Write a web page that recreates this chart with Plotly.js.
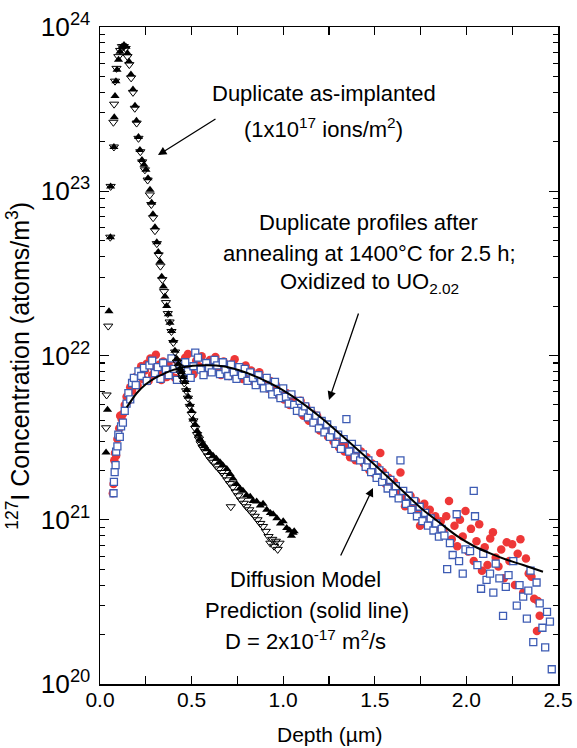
<!DOCTYPE html>
<html>
<head>
<meta charset="utf-8">
<script src="https://cdn.plot.ly/plotly-3.0.1.min.js"></script>
<style>html,body{margin:0;padding:0;background:#fff;}#plot{width:577px;height:748px;}</style>
</head>
<body>
<div id="plot"></div>
<script>
// As-implanted, sample 1 (filled triangles)
const implantA_depth = [0.033,0.041,0.049,0.057,0.058,0.076,0.078,0.082,0.087,0.093,0.101,0.109,0.12,0.131,0.142,0.15,0.158,0.169,0.18,0.191,0.199,0.21,0.218,0.229,0.24,0.251,0.262,0.273,0.282,0.289,0.3,0.31,0.318,0.328,0.337,0.346,0.355,0.364,0.373,0.382,0.391,0.4,0.409,0.419,0.428,0.437,0.445,0.453,0.463,0.473,0.482,0.491,0.5,0.508,0.519,0.53,0.538,0.546,0.56,0.572,0.582,0.6,0.617,0.635,0.655,0.67,0.692,0.71,0.726,0.745,0.764,0.78,0.8,0.82,0.835,0.855,0.875,0.89,0.91,0.93,0.945,0.965,0.985,1.0,1.019,1.035,1.045,1.054,1.06];
const implantA_conc = [2.57e21,4.68e21,1.86e22,5.25e22,1.07e23,1.86e23,2.82e23,3.8e23,4.68e23,5.5e23,6.31e23,7.08e23,7.59e23,7.76e23,7.59e23,6.92e23,6.17e23,5.13e23,4.17e23,3.31e23,2.69e23,2.14e23,1.78e23,1.55e23,1.45e23,1.35e23,1.2e23,1.02e23,8.51e22,7.24e22,6.03e22,4.9e22,4.27e22,3.72e22,3.02e22,2.63e22,2.29e22,2.0e22,1.78e22,1.58e22,1.41e22,1.23e22,1.07e22,9.55e21,8.9e21,8.32e21,7.9e21,7.41e21,6.9e21,6.17e21,5.6e21,5.01e21,4.6e21,4.07e21,3.8e21,3.47e21,3.3e21,3.09e21,2.9e21,2.8e21,2.69e21,2.55e21,2.45e21,2.35e21,2.24e21,2.15e21,2.04e21,1.9e21,1.78e21,1.65e21,1.55e21,1.5e21,1.41e21,1.38e21,1.3e21,1.29e21,1.22e21,1.25e21,1.15e21,1.1e21,1.08e21,1.02e21,9.5e20,9.8e20,8.91e20,8.6e20,8.0e20,8.32e20,8.5e20];

// As-implanted, sample 2 (open triangles)
const implantB_depth = [0.033,0.036,0.045,0.056,0.058,0.073,0.076,0.077,0.082,0.09,0.1,0.11,0.12,0.13,0.14,0.15,0.16,0.17,0.18,0.19,0.2,0.21,0.22,0.23,0.245,0.26,0.272,0.28,0.29,0.3,0.31,0.32,0.33,0.34,0.35,0.36,0.37,0.38,0.39,0.4,0.41,0.42,0.43,0.44,0.45,0.46,0.47,0.48,0.49,0.5,0.51,0.52,0.53,0.54,0.55,0.56,0.575,0.59,0.605,0.62,0.635,0.65,0.665,0.68,0.695,0.71,0.714,0.725,0.74,0.755,0.77,0.785,0.8,0.815,0.83,0.845,0.86,0.875,0.89,0.905,0.92,0.93,0.94,0.95,0.96,0.97,0.98];
const implantB_conc = [3.63e21,5.75e21,1.51e22,5.25e22,1.07e23,2.63e23,1.86e23,3.39e23,4.68e23,5.6e23,6.6e23,7.2e23,7.6e23,7.6e23,7.4e23,6.6e23,5.9e23,4.9e23,4.0e23,3.2e23,2.6e23,2.1e23,1.74e23,1.51e23,1.35e23,1.17e23,9.5e22,8.3e22,6.9e22,5.75e22,4.8e22,4.1e22,3.5e22,2.9e22,2.45e22,2.1e22,1.8e22,1.6e22,1.4e22,1.2e22,1.05e22,9.1e21,8.5e21,7.8e21,7.3e21,6.8e21,6.1e21,5.5e21,4.9e21,4.4e21,4.0e21,3.6e21,3.3e21,3.1e21,2.9e21,2.75e21,2.6e21,2.45e21,2.32e21,2.24e21,2.12e21,2.04e21,1.94e21,1.86e21,1.75e21,1.66e21,1.2e21,1.58e21,1.48e21,1.4e21,1.32e21,1.26e21,1.2e21,1.15e21,1.1e21,1.05e21,1.0e21,9.5e20,9.1e20,8.5e20,7.9e20,7.2e20,7.6e20,6.9e20,7.4e20,6.6e20,7.2e20];

// Annealed, sample 1 (red filled circles)
const annealA_depth = [0.070,0.074,0.078,0.082,0.088,0.095,0.105,0.110,0.118,0.125,0.135,0.145,0.155,0.165,0.175,0.185,0.195,0.205,0.215,0.225,0.235,0.245,0.255,0.265,0.275,0.285,0.295,0.305,0.315,0.325,0.335,0.345,0.355,0.365,0.375,0.385,0.395,0.41,0.42,0.435,0.45,0.465,0.48,0.495,0.51,0.525,0.54,0.555,0.57,0.585,0.60,0.615,0.63,0.645,0.66,0.675,0.69,0.705,0.72,0.735,0.75,0.765,0.78,0.795,0.81,0.825,0.84,0.855,0.87,0.885,0.90,0.915,0.93,0.945,0.96,0.975,0.99,1.005,1.02,1.035,1.05,1.065,1.08,1.095,1.11,1.125,1.14,1.155,1.17,1.185,1.20,1.215,1.23,1.245,1.26,1.275,1.29,1.305,1.32,1.335,1.35,1.365,1.38,1.395,1.41,1.425,1.44,1.455,1.47,1.485,1.50,1.515,1.53,1.545,1.56,1.575,1.59,1.605,1.62,1.64,1.65,1.665,1.68,1.695,1.71,1.725,1.74,1.747,1.755,1.77,1.785,1.80,1.815,1.83,1.845,1.86,1.875,1.89,1.905,1.92,1.935,1.95,1.965,1.98,1.995,2.01,2.025,2.04,2.055,2.07,2.085,2.10,2.115,2.13,2.145,2.16,2.175,2.19,2.205,2.22,2.235,2.25,2.265,2.28,2.295,2.31,2.325,2.34,2.355,2.37,2.385,2.39,2.40];
const annealA_conc = [1.45e21,1.65e21,2.3e21,2.55e21,2.45e21,3.1e21,3.6e21,4.3e21,4.1e21,4.4e21,5.0e21,5.6e21,5.3e21,6.4e21,6.1e21,6.8e21,7.4e21,6.6e21,7.8e21,8.6e21,7.2e21,8.1e21,8.9e21,7.0e21,9.6e21,7.6e21,8.4e21,1.01e22,7.9e21,8.8e21,7.1e21,9.2e21,8.0e21,7.4e21,8.7e21,7.6e21,9.5e21,7.3e21,8.4e21,9.1e21,7.8e21,9.7e21,1.02e22,8.2e21,7.7e21,9.3e21,8.6e21,9.9e21,7.8e21,8.8e21,9.4e21,8.1e21,9.8e21,8.5e21,7.6e21,9.2e21,8.3e21,7.5e21,8.9e21,9.5e21,7.9e21,8.4e21,7.2e21,8.7e21,7.7e21,8.1e21,6.9e21,7.5e21,7.9e21,6.6e21,7.2e21,6.3e21,7.0e21,6.0e21,6.6e21,5.7e21,6.2e21,5.4e21,5.9e21,5.0e21,5.5e21,5.2e21,4.6e21,5.3e21,4.3e21,4.9e21,4.0e21,4.5e21,3.9e21,4.3e21,3.5e21,3.9e21,3.7e21,3.2e21,3.4e21,3.0e21,3.3e21,2.75e21,3.0e21,2.6e21,2.85e21,2.4e21,2.7e21,2.3e21,2.5e21,2.6e21,2.2e21,2.4e21,2.0e21,2.2e21,1.9e21,2.1e21,2.55e21,1.95e21,1.65e21,1.8e21,1.55e21,1.7e21,1.45e21,1.94e21,1.35e21,1.21e21,1.25e21,1.4e21,1.2e21,1.3e21,1.1e21,9.2e20,1.2e21,1.25e21,1.05e21,1.15e21,9.6e20,1.05e21,9.0e20,9.8e20,8.5e20,1.05e21,1.3e21,7.6e20,9.2e20,6.9e20,1.0e21,7.9e20,1.13e21,6.4e20,8.8e20,5.6e20,7.4e20,9.4e20,4.9e20,6.8e20,5.3e20,7.7e20,8.4e20,5.9e20,5.2e20,6.6e20,4.4e20,7.3e20,5.6e20,7.1e20,4.0e20,6.2e20,7.6e20,3.6e20,5.8e20,4.7e20,4.5e20,3.3e20,2.1e20,3.2e20,2.6e20];

// Annealed, sample 2 (blue open squares)
const annealB_depth = [0.074,0.076,0.080,0.085,0.088,0.095,0.10,0.108,0.115,0.125,0.135,0.145,0.155,0.165,0.175,0.185,0.195,0.21,0.225,0.24,0.255,0.27,0.285,0.30,0.315,0.33,0.345,0.36,0.375,0.39,0.405,0.42,0.435,0.45,0.465,0.48,0.495,0.51,0.52,0.535,0.55,0.565,0.58,0.595,0.61,0.625,0.64,0.655,0.67,0.685,0.70,0.715,0.73,0.745,0.76,0.775,0.79,0.805,0.82,0.835,0.85,0.865,0.88,0.895,0.91,0.925,0.94,0.955,0.97,0.985,1.00,1.015,1.03,1.045,1.06,1.075,1.09,1.105,1.12,1.135,1.15,1.165,1.18,1.195,1.21,1.225,1.24,1.255,1.27,1.285,1.30,1.315,1.33,1.345,1.36,1.375,1.39,1.405,1.42,1.435,1.45,1.465,1.48,1.495,1.51,1.525,1.54,1.555,1.57,1.585,1.60,1.615,1.63,1.64,1.655,1.67,1.685,1.70,1.715,1.73,1.745,1.76,1.775,1.79,1.805,1.82,1.835,1.85,1.865,1.88,1.895,1.91,1.925,1.947,1.96,1.98,1.995,2.02,2.04,2.047,2.06,2.08,2.092,2.11,2.129,2.147,2.16,2.18,2.20,2.215,2.23,2.256,2.275,2.29,2.31,2.33,2.338,2.35,2.365,2.383,2.40,2.415,2.43,2.44,2.456,2.466];
const annealB_conc = [1.45e21,1.7e21,1.95e21,2.15e21,2.6e21,2.8e21,3.3e21,3.2e21,3.7e21,3.9e21,4.6e21,5.1e21,5.9e21,5.4e21,6.8e21,7.3e21,6.6e21,8.0e21,7.5e21,8.4e21,7.0e21,8.7e21,9.3e21,7.8e21,8.5e21,7.2e21,9.0e21,8.2e21,7.6e21,9.6e21,8.3e21,7.1e21,8.9e21,7.7e21,9.1e21,8.0e21,7.3e21,8.6e21,1.04e22,9.7e21,8.2e21,7.6e21,9.0e21,8.4e21,7.9e21,9.4e21,8.7e21,7.7e21,9.1e21,8.2e21,7.5e21,8.8e21,7.9e21,7.2e21,8.5e21,7.6e21,8.3e21,7.0e21,7.9e21,7.3e21,6.6e21,7.6e21,7.0e21,6.3e21,7.3e21,6.4e21,5.8e21,6.9e21,6.0e21,5.5e21,6.3e21,5.6e21,5.1e21,5.8e21,5.0e21,4.6e21,5.3e21,4.5e21,4.9e21,4.2e21,4.6e21,3.9e21,4.3e21,3.6e21,4.0e21,3.4e21,3.8e21,3.2e21,3.5e21,2.9e21,3.3e21,2.7e21,3.1e21,4.1e21,2.6e21,2.9e21,2.4e21,2.7e21,2.3e21,2.5e21,2.1e21,2.3e21,1.95e21,2.15e21,1.8e21,2.0e21,1.7e21,1.85e21,1.55e21,1.75e21,1.45e21,1.6e21,1.35e21,2.3e21,1.5e21,1.25e21,1.4e21,1.15e21,1.3e21,1.05e21,1.2e21,9.8e20,1.1e21,9.2e20,1.02e21,8.6e20,9.5e20,7.9e20,8.8e20,8.0e20,5.0e20,7.2e20,6.1e20,1.08e21,5.6e20,4.7e20,6.6e20,6.45e20,1.5e21,1.05e21,5.3e20,3.8e20,6.2e20,4.3e20,4.7e20,3.6e20,5.4e20,4.4e20,2.6e20,3.9e20,4.6e20,5.6e20,3.0e20,4.0e20,3.4e20,2.5e20,3.7e20,4.9e20,1.8e20,4.15e20,3.1e20,2.2e20,1.67e20,2.75e20,2.4e20,1.23e20];

// Diffusion model prediction (solid line)
const model_depth = [0.146,0.2,0.25,0.3,0.35,0.4,0.46,0.56,0.67,0.76,0.855,0.944,1.037,1.128,1.217,1.31,1.401,1.49,1.583,1.674,1.763,1.856,1.95,2.04,2.13,2.22,2.31,2.418];
const model_conc = [4.83e21,5.89e21,6.68e21,7.28e21,7.76e21,8.17e21,8.51e21,8.71e21,8.61e21,8.13e21,7.41e21,6.64e21,5.78e21,4.90e21,4.09e21,3.33e21,2.71e21,2.21e21,1.77e21,1.42e21,1.15e21,9.55e20,7.94e20,6.92e20,6.24e20,5.71e20,5.30e20,4.82e20];

const FONT = 'Liberation Sans, Arial, Helvetica, sans-serif';
const RED = 'rgb(238,55,55)';
const BLUE = 'rgb(62,92,180)';

const traces = [
  {x: annealA_depth, y: annealA_conc, mode: 'markers', type: 'scatter',
   marker: {symbol: 'circle', size: 8.5, color: RED, line: {width: 0}}},
  {x: annealB_depth, y: annealB_conc, mode: 'markers', type: 'scatter',
   marker: {symbol: 'square', size: 7, color: 'white', line: {color: BLUE, width: 1.3}}},
  {x: model_depth, y: model_conc, mode: 'lines', type: 'scatter',
   line: {color: 'black', width: 2, shape: 'spline', smoothing: 0.8}},
  {x: implantA_depth, y: implantA_conc, mode: 'markers', type: 'scatter',
   marker: {symbol: 'triangle-up', size: 8, color: 'black', line: {width: 0}}},
  {x: implantB_depth, y: implantB_conc, mode: 'markers', type: 'scatter',
   marker: {symbol: 'triangle-down-open', size: 8, color: 'black', line: {color: 'black', width: 1}}}
];

const ann = (x, y, text, extra) => Object.assign({xref: 'paper', yref: 'paper', x: x, y: y, text: text,
  showarrow: false, xanchor: 'center', yanchor: 'middle', font: {family: FONT, size: 22, color: 'black'}}, extra || {});

const arrow = (x, y, ax, ay) => ({xref: 'paper', yref: 'paper', x: x, y: y, ax: ax, ay: ay, text: '',
  showarrow: true, arrowhead: 2, arrowsize: 1.3, arrowwidth: 1.3, arrowcolor: 'black', standoff: 0});

const layout = {
  width: 577, height: 748,
  margin: {l: 100, r: 19, t: 27, b: 64},
  paper_bgcolor: 'white', plot_bgcolor: 'white',
  showlegend: false,
  font: {family: FONT, size: 21, color: 'black'},
  xaxis: {
    range: [0, 2.5], dtick: 0.5, tick0: 0, tickformat: '.1f',
    ticks: 'inside', ticklen: 8, tickwidth: 1.2, tickcolor: 'black',
    minor: {dtick: 0.25, ticks: 'inside', ticklen: 8, tickwidth: 1.2, tickcolor: 'black'},
    showline: true, linecolor: 'black', linewidth: 1.5, mirror: 'allticks',
    showgrid: false, zeroline: false,
    tickfont: {family: FONT, size: 21}, ticklabelstandoff: -4
  },
  yaxis: {
    type: 'log', range: [20, 24], dtick: 1, exponentformat: 'power',
    ticks: 'inside', ticklen: 9, tickwidth: 1.2, tickcolor: 'black',
    minor: {dtick: 'D1', ticks: 'inside', ticklen: 5, tickwidth: 1.1, tickcolor: 'black'},
    showline: true, linecolor: 'black', linewidth: 1.5, mirror: 'allticks',
    showgrid: false, zeroline: false,
    tickfont: {family: FONT, size: 21}, ticklabelstandoff: 4
  },
  annotations: [
    ann(0.489, 0.8995, 'Duplicate as-implanted'),
    ann(0.487, 0.846, '(1x10<sup>17</sup> ions/m<sup>2</sup>)'),
    ann(0.587, 0.703, 'Duplicate profiles after'),
    ann(0.5895, 0.656, 'annealing at 1400°C for 2.5 h;'),
    ann(0.5895, 0.610, 'Oxidized to UO<sub>2.02</sub>'),
    ann(0.4476, 0.1583, 'Diffusion Model'),
    ann(0.452, 0.1126, 'Prediction (solid line)'),
    ann(0.4476, 0.067, 'D = 2x10<sup>-17</sup> m<sup>2</sup>/s'),
    ann(0.502, -0.0776, 'Depth (\u00b5m)', {font: {family: FONT, size: 21, color: 'black'}}),
    ann(-0.178, 0.485, '<sup>127</sup>I Concentration (atoms/m<sup>3</sup>)', {textangle: -90, font: {family: FONT, size: 25, color: 'black'}}),
    arrow(0.1266, 0.805, 59, -37),
    arrow(0.5, 0.4323, 30, -88),
    arrow(0.596, 0.2983, -33, 69)
  ]
};

Plotly.newPlot('plot', traces, layout, {displayModeBar: false, staticPlot: true});
</script>
</body>
</html>
